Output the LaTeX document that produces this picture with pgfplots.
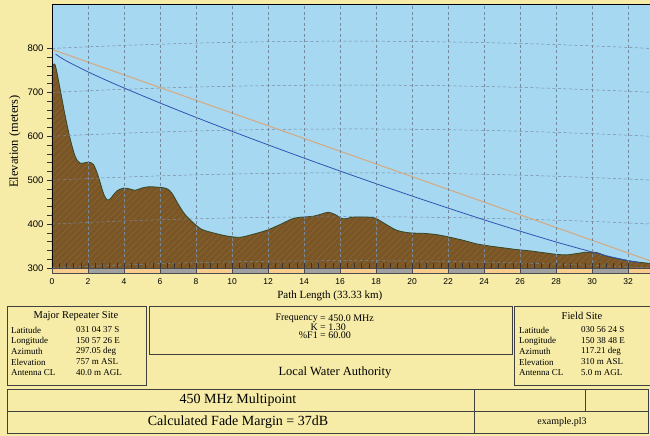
\documentclass[border=0pt]{standalone}
\usepackage{fontspec}
\setmainfont{Liberation Serif}
\setsansfont{Liberation Sans}
\usepackage{pgfplots}
\pgfplotsset{compat=1.18}
\usepackage{pgfplotstable}
\usetikzlibrary{patterns.meta}

\definecolor{bgyellow}{RGB}{246,236,168}
\definecolor{sky}{RGB}{166,216,242}
\definecolor{terrain}{RGB}{122,86,38}
\definecolor{hatch}{RGB}{140,102,54}
\definecolor{ridge}{RGB}{52,72,40}
\definecolor{losline}{RGB}{216,168,124}
\definecolor{fresnel}{RGB}{48,84,176}
\definecolor{gridgray}{RGB}{118,138,158}
\definecolor{barorange}{RGB}{248,204,140}
\definecolor{bargray}{RGB}{160,160,160}

% terrain profile, km / m
\pgfplotstableread{
x elev
0 757
0.17 763
0.44 710
0.72 649
1.0 596
1.28 555
1.56 539
2.0 541
2.3 536
2.57 509
2.85 471
3.04 456
3.22 457
3.59 475
3.96 482
4.33 480
4.61 477
4.98 482
5.35 485
5.91 484
6.37 481
6.65 471
7.02 445
7.39 422
7.85 403
8.32 388
8.96 380
9.7 373
10.44 370
11.18 377
11.93 386
12.67 399
13.41 413
13.96 416
14.52 418
14.98 423
15.35 427
15.72 422
16.18 412
16.74 416
17.48 416
17.94 414
18.41 403
19.15 386
19.89 380
20.63 379
21.37 376
22.11 370
22.85 363
23.59 355
24.33 350
25.07 346
25.82 342
26.56 339
27.29 335
28.04 331
28.59 330
29.15 333
29.7 336
30.26 335
30.81 327
31.37 322
32.11 316
32.85 312
33.33 310
}\terraintab

% earth bulge for the grid lines (k = 1.30)
\pgfplotstableread{
x b
0 0
2 3.78
4 7.08
6 9.90
8 12.24
10 14.09
12 15.45
14 16.34
16 16.74
16.67 16.77
18 16.66
20 16.10
22 15.05
24 13.52
26 11.51
28 9.01
30 6.03
32 2.57
33.33 0
}\bulgetab

% line of sight
\pgfplotstableread{
x h
0 798
33.33 315
}\lostab

% 60% F1 clearance
\pgfplotstableread{
x h
0.2 787.2
0.5 778.9
1 767.3
2 746.8
3 728.0
4 710.1
6 675.9
8 643.1
10 611.4
12 580.6
14 550.4
16 520.9
18 492.1
20 464.0
22 436.5
24 409.8
26 384.0
28 359.3
30 336.4
31 325.9
32 316.8
32.6 312.5
}\fresneltab

\begin{document}
\begin{tikzpicture}[x=1pt,y=-1pt]
\fill[bgyellow] (0,0) rectangle (650,436);
\useasboundingbox (0,0) rectangle (650,436);
\clip (0,0) rectangle (650,436);

\begin{axis}[
  at={(52pt,-268pt)}, anchor=south west,
  width=600pt, height=263.4pt, scale only axis,
  xmin=0, xmax=33.33, ymin=300, ymax=900,
  axis background/.style={fill=sky},
  axis line style={black, line width=0.8pt},
  xtick={0,2,...,32}, ytick={300,400,...,800},
  minor x tick num=4, minor y tick num=4,
  tick align=outside,
  xtick pos=bottom, ytick pos=left,
  major tick length=5pt, minor tick length=5pt,
  tick style={black!80, line width=0.5pt},
  xtick style={yshift=5pt},
  xmajorgrids,
  major grid style={gridgray, dash pattern=on 3pt off 2.5pt, line width=0.5pt},
  axis on top,
  no markers,
  /pgf/number format/assume math mode=true,
  xticklabel style={font=\sffamily\fontsize{8.5}{10}\selectfont, yshift=-2.5pt},
  yticklabel style={font=\sffamily\fontsize{9.5}{11}\selectfont},
  xlabel={Path Length (33.33 km)},
  xlabel style={at={(axis description cs:0.463,-0.107)}, anchor=center,
    font=\fontsize{11}{13}\selectfont},
  ylabel={Elevation (meters)},
  ylabel style={at={(axis description cs:-0.062,0.48)}, anchor=center,
    font=\fontsize{12.5}{14}\selectfont},
]
\addplot[draw=none, fill=terrain, smooth,
  postaction={pattern={Lines[angle=45,distance=4.5pt,line width=0.5pt]}, pattern color=hatch}]
  table[x=x, y=elev] {\terraintab} \closedcycle;
\addplot[ridge, line width=0.8pt, smooth] table[x=x, y=elev] {\terraintab};
\pgfplotsinvokeforeach{300,400,500,600,700,800,900}{
  \addplot[gridgray, dash pattern=on 3pt off 2.5pt, line width=0.5pt]
    table[x=x, y expr=\thisrow{b}+#1] {\bulgetab};
}
\addplot[losline, line width=1pt] table[x=x, y=h] {\lostab};
\addplot[fresnel, line width=0.8pt, smooth] table[x=x, y=h] {\fresneltab};
\end{axis}

% distance scale bar under the profile
\foreach \i in {0,2,...,16}
  \filldraw[fill=barorange, draw=black!70, line width=0.5pt] ({52+36*\i},268) rectangle ({88+36*\i},273.5);
\foreach \i in {1,3,...,15}
  \filldraw[fill=bargray, draw=black!70, line width=0.5pt] ({52+36*\i},268) rectangle ({88+36*\i},273.5);

% info boxes
\tikzset{box/.style={draw=black!75, line width=0.8pt}}
\draw[box] (7,306) rectangle (146,385);
\draw[box] (149,306) rectangle (512,354);
\draw[box] (514,306) rectangle (662,385);
\draw[box] (7,389) rectangle (648,433);
\draw[box] (7,411) -- (648,411);
\draw[box] (474,389) -- (474,433);
\draw[box] (585,389) -- (585,411);

\tikzset{small/.style={font=\fontsize{9}{10}\selectfont, inner sep=0pt, anchor=west}}
\node[font=\fontsize{10.5}{12}\selectfont] at (76,316) {Major Repeater Site};
\node[small] at (11,330) {Latitude};     \node[small] at (76,330) {031 04 37 S};
\node[small] at (11,341) {Longitude};    \node[small] at (76,341) {150 57 26 E};
\node[small] at (11,351) {Azimuth};      \node[small] at (76,351) {297.05 deg};
\node[small] at (11,362) {Elevation};    \node[small] at (76,362) {757 m ASL};
\node[small] at (11,373) {Antenna CL};   \node[small] at (76,373) {40.0 m AGL};

\node[font=\fontsize{10.5}{12}\selectfont] at (582,316) {Field Site};
\node[small] at (519,330) {Latitude};    \node[small] at (581,330) {030 56 24 S};
\node[small] at (519,341) {Longitude};   \node[small] at (581,341) {150 38 48 E};
\node[small] at (519,351) {Azimuth};     \node[small] at (581,351) {117.21 deg};
\node[small] at (519,362) {Elevation};   \node[small] at (581,362) {310 m ASL};
\node[small] at (519,373) {Antenna CL};  \node[small] at (581,373) {5.0 m AGL};

\tikzset{freq/.style={font=\fontsize{10}{10}\selectfont, inner sep=0pt}}
\node[freq, anchor=east] at (318,318.5) {Frequency};  \node[freq, anchor=west] at (320,318.5) {= 450.0 MHz};
\node[freq, anchor=east] at (318,327) {K};            \node[freq, anchor=west] at (320,327) {= 1.30};
\node[freq, anchor=east] at (318,335.5) {\%F1};       \node[freq, anchor=west] at (320,335.5) {= 60.00};

\node[font=\fontsize{12.5}{14}\selectfont] at (335,373) {Local Water Authority};
\node[font=\fontsize{14}{16}\selectfont] at (238,400) {450 MHz Multipoint};
\node[font=\fontsize{14}{16}\selectfont] at (238,422) {Calculated Fade Margin = 37dB};
\node[font=\fontsize{10}{12}\selectfont] at (562,422) {example.pl3};
\end{tikzpicture}
\end{document}
